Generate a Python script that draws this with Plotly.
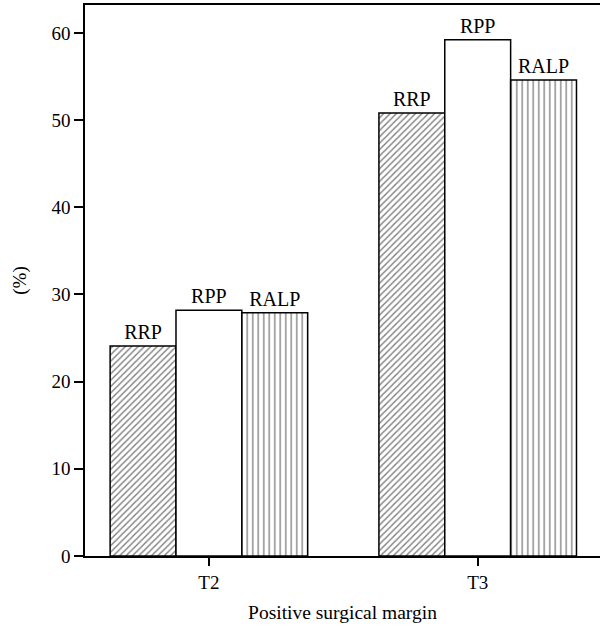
import plotly.graph_objects as go

categories = ["T2", "T3"]
series_names = ["RRP", "RPP", "RALP"]
rrp = [24.1, 50.8]
rpp = [28.2, 59.2]
ralp = [27.9, 54.6]

values = [rrp, rpp, ralp]
patterns = [
    dict(shape="/", fgcolor="black", bgcolor="white", size=4.5, solidity=0.32),
    dict(shape="", fgcolor="black", bgcolor="white"),
    dict(shape="|", fgcolor="black", bgcolor="white", size=5.5, solidity=0.24),
]

FF = "Liberation Serif"

fig = go.Figure()
for name, vals, pat in zip(series_names, values, patterns):
    fig.add_trace(go.Bar(
        x=categories, y=vals, name=name,
        text=[name] * len(vals), textposition="outside",
        textfont=dict(family=FF, size=20, color="black"),
        marker=dict(color="white", line=dict(color="black", width=1.5), pattern=pat),
        cliponaxis=False,
    ))

fig.update_layout(
    width=600, height=627,
    margin=dict(l=85, r=0, t=5, b=71, autoexpand=False),
    barmode="group", bargap=0.265, bargroupgap=0,
    plot_bgcolor="white", paper_bgcolor="white",
    showlegend=False,
    font=dict(family=FF, size=18, color="black"),
)
fig.update_xaxes(
    range=[-0.461, 1.455],
    showline=True, linecolor="black", linewidth=1.5, mirror=True,
    ticks="outside", ticklen=8, tickcolor="black", tickwidth=1.5,
    showgrid=False, zeroline=False, automargin=False,
    title=dict(text="Positive surgical margin", standoff=14, font=dict(family=FF, size=19.5, color="black")),
    tickfont=dict(family=FF, size=19, color="black"),
)
fig.update_yaxes(
    range=[0, 63.2],
    tickvals=[0, 10, 20, 30, 40, 50, 60],
    showline=True, linecolor="black", linewidth=1.5,
    ticks="outside", ticklen=9, tickcolor="black", tickwidth=1.5,
    showgrid=False, zeroline=False, automargin=False,
    title=dict(text="(%)", standoff=20, font=dict(family=FF, size=19, color="black")),
    tickfont=dict(family=FF, size=19, color="black"),
)

fig.write_html(
    "out.html",
    config={"displayModeBar": False},
    post_script="document.body.style.margin='0';document.body.style.overflow='hidden';",
)
